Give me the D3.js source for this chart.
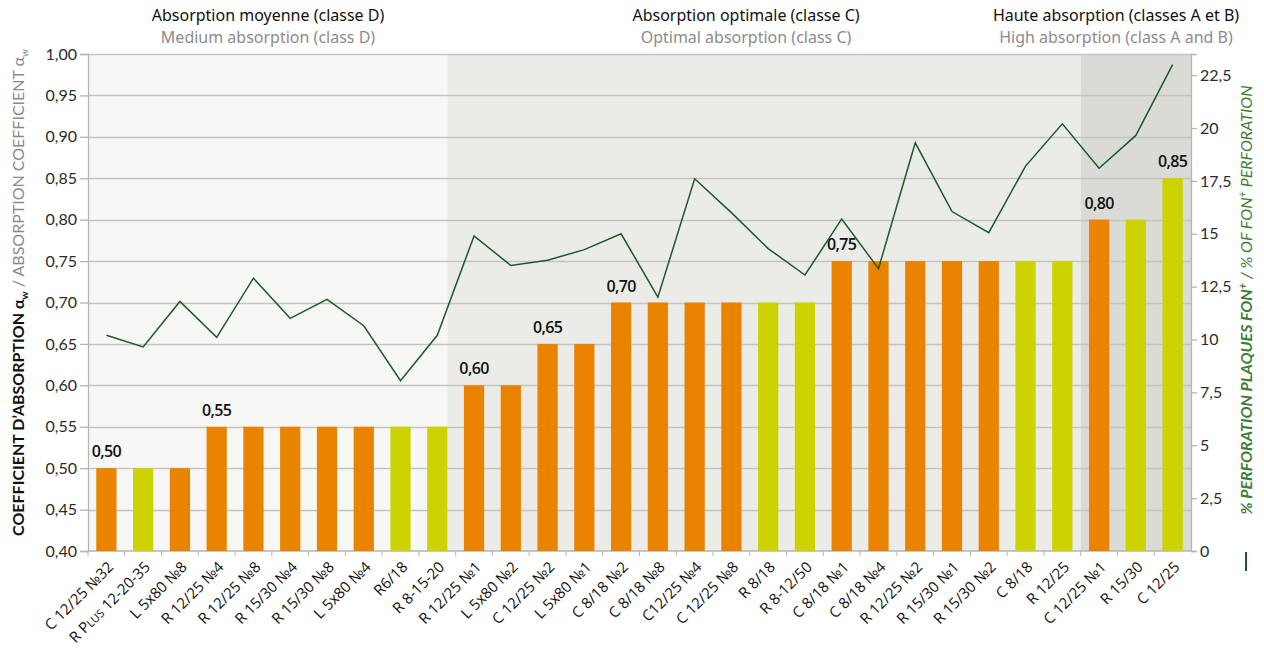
<!DOCTYPE html>
<html>
<head>
<meta charset="utf-8">
<script src="https://cdn.jsdelivr.net/npm/d3@7"></script>
<style>
	body { margin: 0; background: #fff; }
	svg { display: block; font-family: "Noto Sans", sans-serif; }
	.tick-label { font-family: Lato, sans-serif; font-size: 16px; fill: #2b2b2b; }
	.cat-label { font-family: "Open Sans", sans-serif; font-size: 15px; fill: #111; }
	.value-label { font-family: "Open Sans", sans-serif; font-size: 16px; font-weight: 600; fill: #111; letter-spacing: -0.6px; }
</style>
</head>
<body>
<div class="viz"></div>
<script>
// products, sorted by absorption coefficient
let categories = ["C 12/25 №32", "R Plus 12-20-35", "L 5x80 №8", "R 12/25 №4", "R 12/25 №8",
	"R 15/30 №4", "R 15/30 №8", "L 5x80 №4", "R6/18", "R 8-15-20",
	"R 12/25 №1", "L 5x80 №2", "C 12/25 №2", "L 5x80 №1", "C 8/18 №2",
	"C 8/18 №8", "C12/25 №4", "C 12/25 №8", "R 8/18", "R 8-12/50",
	"C 8/18 №1", "C 8/18 №4", "R 12/25 №2", "R 15/30 №1", "R 15/30 №2",
	"C 8/18", "R 12/25", "C 12/25 №1", "R 15/30", "C 12/25"];

let absorption = [0.50, 0.50, 0.50, 0.55, 0.55, 0.55, 0.55, 0.55, 0.55, 0.55,
	0.60, 0.60, 0.65, 0.65, 0.70, 0.70, 0.70, 0.70, 0.70, 0.70,
	0.75, 0.75, 0.75, 0.75, 0.75, 0.75, 0.75, 0.80, 0.80, 0.85];

// % perforation (right axis)
let perforation = [10.2, 9.65, 11.8, 10.1, 12.9, 11.0, 11.9, 10.65, 8.05, 10.2,
	14.9, 13.5, 13.75, 14.25, 15.0, 12.0, 17.6, 16.0, 14.3, 13.05,
	15.7, 13.35, 19.3, 16.05, 15.05, 18.2, 20.2, 18.1, 19.65, 23.0];

// "a" = orange plates, "b" = lime plates
let plateType = ["a", "b", "a", "a", "a", "a", "a", "a", "b", "b",
	"a", "a", "a", "a", "a", "a", "a", "a", "b", "b",
	"a", "a", "a", "a", "a", "b", "b", "a", "b", "b"];

let classFr = ["Absorption moyenne (classe D)", "Absorption optimale (classe C)", "Haute absorption (classes A et B)"];
let classEn = ["Medium absorption (class D)", "Optimal absorption (class C)", "High absorption (class A and B)"];
let classFirst = [0, 10, 27];
let classLast = [9, 26, 29];

let leftTicks = [0.40, 0.45, 0.50, 0.55, 0.60, 0.65, 0.70, 0.75, 0.80, 0.85, 0.90, 0.95, 1.00];
let rightTicks = [0, 2.5, 5, 7.5, 10, 12.5, 15, 17.5, 20, 22.5];

let width = 1264, height = 649;
let margin = {top: 54, right: 73, bottom: 98, left: 88};
let plotW = width - margin.left - margin.right,
	plotH = height - margin.top - margin.bottom;

let svg = d3.select('.viz').append('svg')
	.attr('width', width)
	.attr('height', height);

let x = d3.scaleBand()
	.domain(categories)
	.range([margin.left, margin.left + plotW])
	.paddingInner(0.45)
	.paddingOuter(0.225);

let y = d3.scaleLinear()
	.domain([0.4, 1.0])
	.range([margin.top + plotH, margin.top]);

let y2 = d3.scaleLinear()
	.domain([0, 23.5])
	.range([margin.top + plotH, margin.top]);

let colors = {a: "#e98300", b: "#ccd300"};
let bgColors = ["#f7f7f5", "#ebebe7", "#dadbd5"];
let comma = function(f) { return function(v) { return f(v).replace(".", ","); }; };

let step = x.step();
let cellLeft = function(i) { return x(categories[i]) - step * x.paddingInner() / 2; };

// class backgrounds
svg.append("g").selectAll("rect")
	.data(classFirst)
	.enter().append("rect")
	.attr("x", function(d, i) { return i == 1 ? x(categories[d]) - step * 0.45 : cellLeft(d); })
	.attr("y", margin.top)
	.attr("width", function(d, i) {
		let x0 = i == 1 ? x(categories[d]) - step * 0.45 : cellLeft(d);
		let x1 = i == 0 ? x(categories[classFirst[1]]) - step * 0.45 : cellLeft(classLast[i]) + step;
		return x1 - x0;
	})
	.attr("height", plotH)
	.attr("fill", function(d, i) { return bgColors[i]; });

// gridlines
svg.append("g").selectAll("line")
	.data(leftTicks.slice(1))
	.enter().append("line")
	.attr("x1", margin.left)
	.attr("x2", margin.left + plotW)
	.attr("y1", function(d) { return Math.round(y(d)) + 0.5; })
	.attr("y2", function(d) { return Math.round(y(d)) + 0.5; })
	.attr("stroke", "#c4c4c2")
	.attr("stroke-width", 1.6);

// left axis
let leftAxis = svg.append("g")
	.attr("transform", "translate(" + margin.left + ",0)")
	.call(d3.axisLeft(y).tickValues(leftTicks).tickFormat(comma(d3.format(".2f"))).tickSize(8).tickPadding(3));
leftAxis.selectAll("path, line").attr("stroke", "#b5b5b5").attr("stroke-width", 1.3);
leftAxis.selectAll("text").attr("class", "tick-label").attr("font-size", null).attr("font-family", null);

// right axis
let rightAxis = svg.append("g")
	.attr("transform", "translate(" + (margin.left + plotW) + ",0)")
	.call(d3.axisRight(y2).tickValues(rightTicks).tickFormat(comma(d3.format("~g"))).tickSize(6).tickPadding(3));
rightAxis.selectAll("path, line").attr("stroke", "#b5b5b5").attr("stroke-width", 1.3);
rightAxis.selectAll("text").attr("class", "tick-label").attr("font-size", null).attr("font-family", null);

// bottom axis: ticks on cell borders
let bottom = svg.append("g");
bottom.append("line")
	.attr("x1", margin.left).attr("x2", margin.left + plotW)
	.attr("y1", margin.top + plotH).attr("y2", margin.top + plotH)
	.attr("stroke", "#b5b5b5").attr("stroke-width", 1.6);
bottom.selectAll(".xtick")
	.data(categories)
	.enter().append("line")
	.attr("class", "xtick")
	.attr("x1", function(d, i) { return cellLeft(i); })
	.attr("x2", function(d, i) { return cellLeft(i); })
	.attr("y1", margin.top + plotH)
	.attr("y2", margin.top + plotH + 5)
	.attr("stroke", "#b5b5b5");

// category labels
let catText = bottom.selectAll(".cat-label")
	.data(categories)
	.enter().append("text")
	.attr("class", "cat-label")
	.attr("text-anchor", "end")
	.attr("transform", function(d) {
		return "translate(" + (x(d) + x.bandwidth() / 2 + 8) + "," + (margin.top + plotH + 17) + ")rotate(-45)";
	});
catText.each(function(d) {
	let t = d3.select(this);
	if (d.indexOf("Plus") >= 0) {
		t.append("tspan").text("R ");
		t.append("tspan").style("font-variant", "small-caps").text("Plus");
		t.append("tspan").text(" 12-20-35");
	} else {
		t.text(d);
	}
});

// bars
svg.append("g").selectAll("rect")
	.data(absorption)
	.enter().append("rect")
	.attr("x", function(d, i) { return x(categories[i]); })
	.attr("y", function(d) { return y(d); })
	.attr("width", x.bandwidth())
	.attr("height", function(d) { return y(0.4) - y(d); })
	.attr("fill", function(d, i) { return colors[plateType[i]]; });

// value labels at each new level
svg.append("g").selectAll("text")
	.data(absorption)
	.enter().filter(function(d, i) { return i == 0 || absorption[i - 1] != d; })
	.append("text")
	.attr("class", "value-label")
	.attr("text-anchor", "middle")
	.attr("x", function(d) { return x(categories[absorption.indexOf(d)]) + x.bandwidth() / 2; })
	.attr("y", function(d) { return y(d) - 11; })
	.text(comma(d3.format(".2f")));

// perforation line
let line = d3.line()
	.x(function(d, i) { return x(categories[i]) + x.bandwidth() / 2; })
	.y(function(d) { return y2(d); });

svg.append("path")
	.datum(perforation)
	.attr("d", line)
	.attr("fill", "none")
	.attr("stroke", "#1b5a2a")
	.attr("stroke-width", 1.5)
	.attr("stroke-linejoin", "miter");

// class headings
let headX = [268, 746, 1116];
let heads = svg.append("g")
	.attr("font-family", "'Noto Sans', sans-serif")
	.attr("font-size", 16)
	.attr("text-anchor", "middle");
heads.selectAll(".fr")
	.data(classFr)
	.enter().append("text")
	.attr("x", function(d, i) { return headX[i]; })
	.attr("y", 21)
	.attr("fill", "#111")
	.text(function(d) { return d; });
heads.selectAll(".en")
	.data(classEn)
	.enter().append("text")
	.attr("x", function(d, i) { return headX[i]; })
	.attr("y", 43)
	.attr("fill", "#8c8c8c")
	.text(function(d) { return d; });

// left axis title
let lt = svg.append("text")
	.attr("transform", "translate(24," + (margin.top + plotH / 2 - 10) + ")rotate(-90)")
	.attr("text-anchor", "middle")
	.attr("font-family", "Lato, sans-serif")
	.attr("font-size", 16);
lt.append("tspan").attr("font-weight", 700).attr("fill", "#111").text("COEFFICIENT D’ABSORPTION α");
lt.append("tspan").attr("font-weight", 700).attr("fill", "#111").attr("font-size", 10).attr("dy", 4).text("w");
lt.append("tspan").attr("fill", "#8a8a8a").attr("dy", -4).text(" / ABSORPTION COEFFICIENT α");
lt.append("tspan").attr("fill", "#8a8a8a").attr("font-size", 10).attr("dy", 4).text("w");

// right axis title
let rt = svg.append("text")
	.attr("transform", "translate(1252,300)rotate(-90)")
	.attr("text-anchor", "middle")
	.attr("font-family", "Lato, sans-serif")
	.attr("font-style", "italic")
	.attr("font-size", 16)
	.attr("fill", "#3d7e33");
rt.append("tspan").attr("font-weight", 700).text("% PERFORATION PLAQUES FON");
rt.append("tspan").attr("font-weight", 700).attr("font-size", 11).attr("dy", -6).text("+");
rt.append("tspan").attr("dy", 6).text(" / % OF FON");
rt.append("tspan").attr("font-size", 11).attr("dy", -6).text("+");
rt.append("tspan").attr("dy", 6).text(" PERFORATION");

// legend mark for the line
svg.append("line")
	.attr("x1", 1246).attr("x2", 1246)
	.attr("y1", 552).attr("y2", 571)
	.attr("stroke", "#1b5a2a")
	.attr("stroke-width", 2);
</script>
</body>
</html>
